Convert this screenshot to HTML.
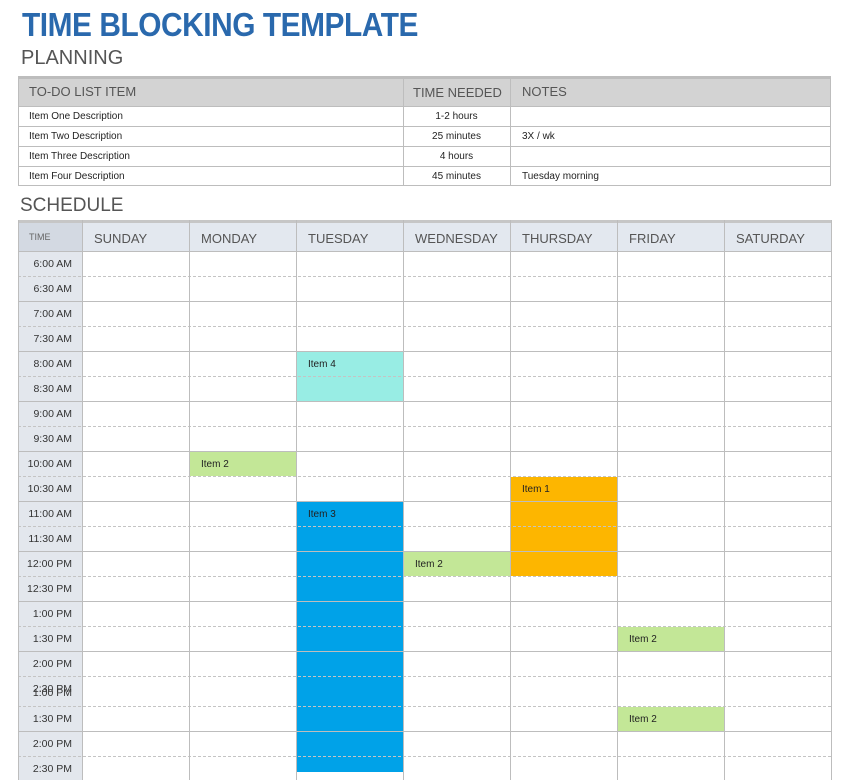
<!DOCTYPE html>
<html><head><meta charset="utf-8"><style>
body{margin:0;width:847px;height:770px;background:#fff;position:relative;overflow:hidden;font-family:"Liberation Sans",sans-serif;}
div{position:absolute;box-sizing:border-box;}
.t{white-space:nowrap;}
.h{background:#bdbdbd;}
.v{background:#bdbdbd;width:1px;}
.d{height:0;border-top:1px dashed #c4c4c4;left:18px;width:813px;}
.s{height:1px;background:#bdbdbd;left:18px;width:813px;}
.tm{left:18px;width:54px;text-align:right;font-size:10.5px;color:#333;}
.it{font-size:10px;color:#222;}
.sc{font-size:13px;color:#555;top:231px;}
</style></head><body>
<div class="t" style="left:22px;top:6px;font-size:33px;font-weight:bold;color:#2a69ad;letter-spacing:-0.5px;transform:scaleX(0.905);transform-origin:left;">TIME BLOCKING TEMPLATE</div>
<div class="t" style="left:21px;top:47px;font-size:20px;color:#555;">PLANNING</div>
<!-- planning table -->
<div style="left:18px;top:76px;width:813px;height:30px;background:#d3d3d3;border-top:3px solid #bdbdbd;"></div>
<div style="left:18px;top:76px;width:813px;height:110px;border:1px solid #bdbdbd;"></div>
<div class="s" style="top:106px"></div><div class="s" style="top:126px"></div><div class="s" style="top:146px"></div><div class="s" style="top:166px"></div>
<div class="v" style="left:403px;top:76px;height:110px"></div>
<div class="v" style="left:510px;top:76px;height:110px"></div>
<div class="t" style="left:29px;top:84px;font-size:13px;color:#555;">TO-DO LIST ITEM</div>
<div class="t" style="left:413px;top:85px;font-size:13px;color:#555;">TIME NEEDED</div>
<div class="t" style="left:522px;top:84px;font-size:13px;color:#555;">NOTES</div>
<div class="t it" style="left:29px;top:111px">Item One Description</div>
<div class="t it" style="left:29px;top:131px">Item Two Description</div>
<div class="t it" style="left:29px;top:151px">Item Three Description</div>
<div class="t it" style="left:29px;top:171px">Item Four Description</div>
<div class="t it" style="left:403px;width:107px;text-align:center;top:111px">1-2 hours</div>
<div class="t it" style="left:403px;width:107px;text-align:center;top:131px">25 minutes</div>
<div class="t it" style="left:403px;width:107px;text-align:center;top:151px">4 hours</div>
<div class="t it" style="left:403px;width:107px;text-align:center;top:171px">45 minutes</div>
<div class="t it" style="left:522px;top:131px">3X / wk</div>
<div class="t it" style="left:522px;top:171px">Tuesday morning</div>
<div class="t" style="left:20px;top:195px;font-size:19px;color:#555;">SCHEDULE</div>
<!-- schedule -->
<div style="left:18px;top:220px;width:813px;height:31px;background:#e3e8ef;border-top:3px solid #c6c6c6;"></div>
<div style="left:18px;top:220px;width:64px;height:560px;background:#e3e7ed;"></div>
<div style="left:18px;top:220px;width:64px;height:31px;background:#d3d9e2;border-top:3px solid #c6c6c6;"></div>
<!-- blocks -->
<div style="left:297px;top:352px;width:106px;height:49px;background:#98ede4"></div>
<div style="left:190px;top:452px;width:106px;height:24px;background:#c3e797"></div>
<div style="left:297px;top:502px;width:106px;height:270px;background:#00a2e8"></div>
<div style="left:511px;top:477px;width:106px;height:99px;background:#fdb600"></div>
<div style="left:404px;top:552px;width:106px;height:24px;background:#c3e797"></div>
<div style="left:618px;top:627px;width:106px;height:24px;background:#c3e797"></div>
<div style="left:618px;top:707px;width:106px;height:24px;background:#c3e797"></div>
<!-- lines -->
<div class="s" style="top:251px"></div><div class="d" style="top:276px"></div>
<div class="s" style="top:301px"></div><div class="d" style="top:326px"></div>
<div class="s" style="top:351px"></div><div class="d" style="top:376px"></div>
<div class="s" style="top:401px"></div><div class="d" style="top:426px"></div>
<div class="s" style="top:451px"></div><div class="d" style="top:476px"></div>
<div class="s" style="top:501px"></div><div class="d" style="top:526px"></div>
<div class="s" style="top:551px"></div><div class="d" style="top:576px"></div>
<div class="s" style="top:601px"></div><div class="d" style="top:626px"></div>
<div class="s" style="top:651px"></div><div class="d" style="top:676px"></div>
<div class="d" style="top:706px"></div>
<div class="s" style="top:731px"></div><div class="d" style="top:756px"></div>
<div class="v" style="left:18px;top:220px;height:560px"></div>
<div class="v" style="left:82px;top:220px;height:560px"></div>
<div class="v" style="left:189px;top:220px;height:560px"></div>
<div class="v" style="left:296px;top:220px;height:560px"></div>
<div class="v" style="left:403px;top:220px;height:560px"></div>
<div class="v" style="left:510px;top:220px;height:560px"></div>
<div class="v" style="left:617px;top:220px;height:560px"></div>
<div class="v" style="left:724px;top:220px;height:560px"></div>
<div class="v" style="left:831px;top:220px;height:560px"></div>
<!-- headers -->
<div class="t" style="left:29px;top:232px;font-size:9px;color:#666;">TIME</div>
<div class="t sc" style="left:94px">SUNDAY</div>
<div class="t sc" style="left:201px">MONDAY</div>
<div class="t sc" style="left:308px">TUESDAY</div>
<div class="t sc" style="left:415px">WEDNESDAY</div>
<div class="t sc" style="left:522px">THURSDAY</div>
<div class="t sc" style="left:629px">FRIDAY</div>
<div class="t sc" style="left:736px">SATURDAY</div>
<!-- times -->
<div class="t tm" style="top:258px">6:00 AM</div>
<div class="t tm" style="top:283px">6:30 AM</div>
<div class="t tm" style="top:308px">7:00 AM</div>
<div class="t tm" style="top:333px">7:30 AM</div>
<div class="t tm" style="top:358px">8:00 AM</div>
<div class="t tm" style="top:383px">8:30 AM</div>
<div class="t tm" style="top:408px">9:00 AM</div>
<div class="t tm" style="top:433px">9:30 AM</div>
<div class="t tm" style="top:458px">10:00 AM</div>
<div class="t tm" style="top:483px">10:30 AM</div>
<div class="t tm" style="top:508px">11:00 AM</div>
<div class="t tm" style="top:533px">11:30 AM</div>
<div class="t tm" style="top:558px">12:00 PM</div>
<div class="t tm" style="top:583px">12:30 PM</div>
<div class="t tm" style="top:608px">1:00 PM</div>
<div class="t tm" style="top:633px">1:30 PM</div>
<div class="t tm" style="top:658px">2:00 PM</div>
<div class="t tm" style="top:683px">2:30 PM</div>
<div class="t tm" style="top:687px">1:00 PM</div>
<div class="t tm" style="top:713px">1:30 PM</div>
<div class="t tm" style="top:738px">2:00 PM</div>
<div class="t tm" style="top:763px">2:30 PM</div>
<!-- items -->
<div class="t it" style="left:308px;top:359px">Item 4</div>
<div class="t it" style="left:201px;top:459px">Item 2</div>
<div class="t it" style="left:522px;top:484px">Item 1</div>
<div class="t it" style="left:308px;top:509px">Item 3</div>
<div class="t it" style="left:415px;top:559px">Item 2</div>
<div class="t it" style="left:629px;top:634px">Item 2</div>
<div class="t it" style="left:629px;top:714px">Item 2</div>
</body></html>
